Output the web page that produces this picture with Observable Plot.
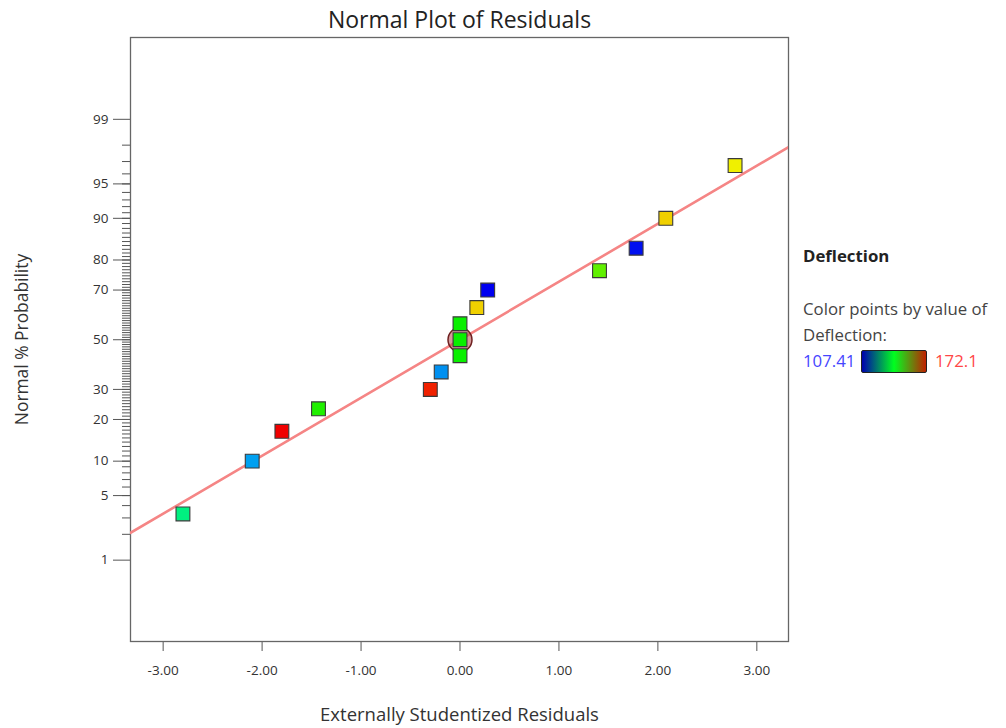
<!DOCTYPE html>
<html><head><meta charset="utf-8">
<script src="https://cdn.jsdelivr.net/npm/d3@7"></script>
<script src="https://cdn.jsdelivr.net/npm/@observablehq/plot@0.6"></script>
<style>
body{margin:0;background:#fff;font-family:"Open Sans",sans-serif;}
#wrap{position:relative;width:1006px;height:728px;overflow:hidden;}
.lg{position:absolute;font-size:16.8px;line-height:22px;color:#444;white-space:nowrap;}
#bar{position:absolute;left:861px;top:350px;width:64px;height:21px;border:1.5px solid #222;border-radius:2px;
background:linear-gradient(to right,#0000b0,#00ff20 50%,#c02000);}
</style></head><body><div id="wrap"></div>
<script>
// Data
const residuals = [-2.80,-2.10,-1.80,-1.43,-0.30,-0.19,0.00,0.00,0.00,0.17,0.28,1.41,1.78,2.08,2.78];
const probabilities = [3.3,10,16.7,23.3,30,36.7,43.3,50,56.7,63.3,70,76.7,83.3,90,96.7];
const deflection = [131.1,118.2,172.1,141.9,169.9,117.1,140.4,140.4,140.4,158.1,107.41,146.2,108.5,158.1,155.9];
const colorStops = [107.41,123.58,139.76,155.93,172.1];
const colorRange = ["#0000f0","#00f0f0","#00f000","#f0f000","#f00000"];
const majorTicks = [1,5,10,20,30,50,70,80,90,95,99];
const minorTicks = d3.range(2,99);
const xTicks = [-3,-2,-1,0,1,2,3];
const lineEnds = [-3.33,3.32];
const lineSlope = 0.612; // z per residual unit
const highlight = [{x:0,p:50}];

function probit(p){
 const a=[-3.969683028665376e+01,2.209460984245205e+02,-2.759285104469687e+02,1.383577518672690e+02,-3.066479806614716e+01,2.506628277459239e+00];
 const b=[-5.447609879822406e+01,1.615858368580409e+02,-1.556989798598866e+02,6.680131188771972e+01,-1.328068155288572e+01];
 const c=[-7.784894002430293e-03,-3.223964580411365e-01,-2.400758277161838e+00,-2.549732539343734e+00,4.374664141464968e+00,2.938163982698783e+00];
 const d=[7.784695709041462e-03,3.224671290700398e-01,2.445134137142996e+00,3.754408661907416e+00];
 const pl=0.02425, ph=1-pl; let q,r;
 if(p<pl){q=Math.sqrt(-2*Math.log(p));return (((((c[0]*q+c[1])*q+c[2])*q+c[3])*q+c[4])*q+c[5])/((((d[0]*q+d[1])*q+d[2])*q+d[3])*q+1);}
 if(p>ph){q=Math.sqrt(-2*Math.log(1-p));return -(((((c[0]*q+c[1])*q+c[2])*q+c[3])*q+c[4])*q+c[5])/((((d[0]*q+d[1])*q+d[2])*q+d[3])*q+1);}
 q=p-0.5;r=q*q;return (((((a[0]*r+a[1])*r+a[2])*r+a[3])*r+a[4])*r+a[5])*q/(((((b[0]*r+b[1])*r+b[2])*r+b[3])*r+b[4])*r+1);
}

const points = residuals.map((x,i)=>({x, z: probit(probabilities[i]/100), v: deflection[i]}));
const majorZ = majorTicks.map(p=>probit(p/100));
const minorZ = minorTicks.map(p=>probit(p/100));
const lineData = lineEnds.map(x=>({x, z: lineSlope*x}));
const hl = highlight.map(d=>({x:d.x, z: probit(d.p/100)}));

const chart = Plot.plot({
  width:1006, height:728,
  marginLeft:130, marginRight:218, marginTop:37, marginBottom:87,
  style:{fontFamily:"Open Sans, sans-serif", fontSize:"13.5px", background:"#fff", color:"#333"},
  x:{domain:[-3.33,3.32], label:null},
  y:{domain:[-3.185,3.19], label:null},
  color:{type:"linear", domain:colorStops, range:colorRange, interpolate:"rgb", legend:false},
  marks:[
    Plot.axisY(minorZ,{tickSize:8, tickFormat:()=>"", label:null, stroke:"#555"}),
    Plot.axisY(majorZ,{tickSize:17, tickPadding:5, label:null, stroke:"#555", fill:"#333", fontSize:13.5,
      tickFormat:z=>String(majorTicks[majorZ.findIndex(v=>Math.abs(v-z)<1e-9)])}),
    Plot.axisX(xTicks,{tickSize:10, tickPadding:14, label:null, stroke:"#555", fill:"#333", fontSize:13.5,
      tickFormat:d=>d.toFixed(2)}),
    Plot.frame({stroke:"#666", strokeWidth:1.3}),
    Plot.line(lineData,{x:"x", y:"z", stroke:"#f58585", strokeWidth:2.6, clip:true}),
    Plot.dot(hl,{x:"x", y:"z", r:12, fill:"#b04848", fillOpacity:0.55, stroke:"#6e2020", strokeWidth:1.5}),
    Plot.dot(points,{x:"x", y:"z", symbol:"square", r:7.8, fill:"v", stroke:"#3a3a3a", strokeWidth:1.1}),
    Plot.text(["Normal Plot of Residuals"],{text:d=>d, frameAnchor:"top", lineAnchor:"middle", dy:-17, fontSize:23, fill:"#222"}),
    Plot.text(["Normal % Probability"],{text:d=>d, frameAnchor:"left", textAnchor:"middle", lineAnchor:"middle", dx:-108, rotate:-90, fontSize:17.4, fill:"#333"}),
    Plot.text(["Externally Studentized Residuals"],{text:d=>d, frameAnchor:"bottom", lineAnchor:"middle", dy:74, fontSize:18.5, fill:"#333"})
  ]
});
const wrap = document.getElementById("wrap");
wrap.appendChild(chart);
const legendItems = [
  {t:"Deflection", x:803, y:245, s:"font-weight:bold;color:#222;"},
  {t:"Color points by value of", x:803, y:298, s:""},
  {t:"Deflection:", x:803, y:324, s:""},
  {t:"107.41", x:803, y:350, s:"color:#4646ff;"},
  {t:"172.1", x:935, y:350, s:"color:#ff4646;"}
];
for(const it of legendItems){
  const el=document.createElement("div"); el.className="lg"; el.textContent=it.t;
  el.style.cssText+=`left:${it.x}px;top:${it.y}px;`+it.s; wrap.appendChild(el);
}
const bar=document.createElement("div"); bar.id="bar"; wrap.appendChild(bar);
</script></body></html>
